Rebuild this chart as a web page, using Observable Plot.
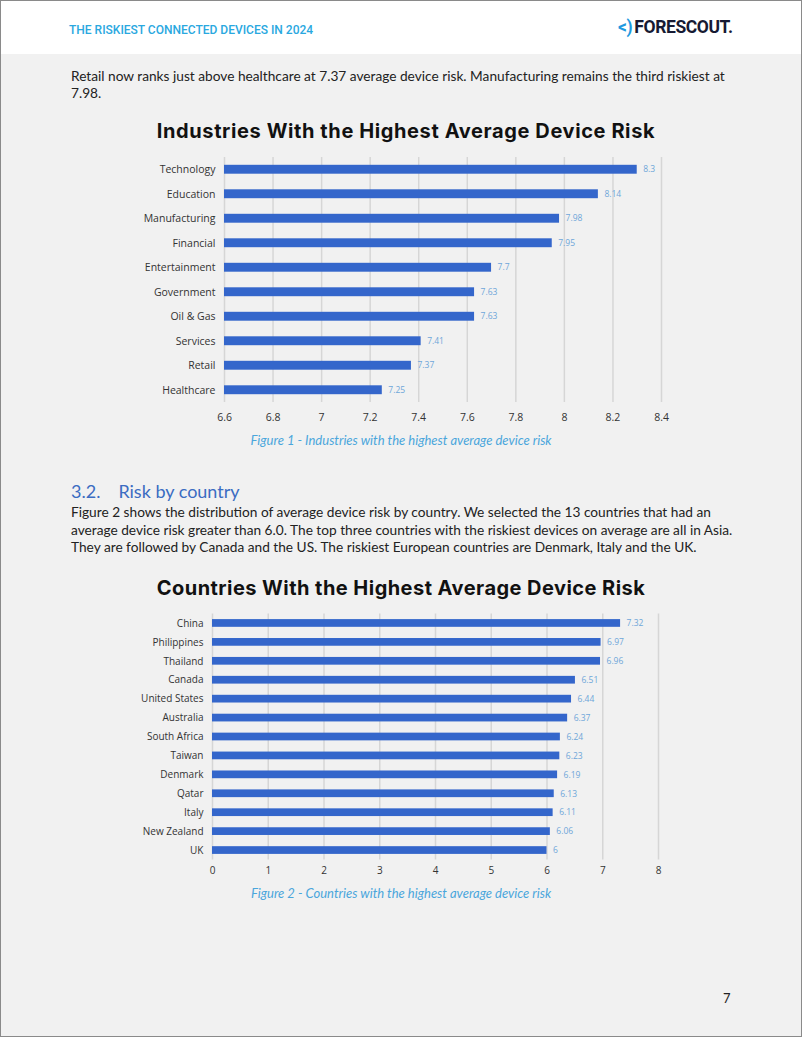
<!DOCTYPE html>
<html>
<head>
<meta charset="utf-8">
<script src="https://cdn.jsdelivr.net/npm/d3@7"></script>
<script src="https://cdn.jsdelivr.net/npm/@observablehq/plot@0.6"></script>
<style>
  html, body { margin: 0; padding: 0; }
  body { width: 802px; height: 1037px; position: relative; overflow: hidden; background: #f1f1f1; font-family: "Lato", "Open Sans", sans-serif; }
  #page { position: absolute; left: 0; top: 0; width: 800px; height: 1035px; border: 1px solid #8a8a8a; background: #f1f1f1; }
  #header { position: absolute; left: 0; top: 0; width: 800px; height: 53px; background: #ffffff; }
  .abs { position: absolute; white-space: nowrap; line-height: 1; }
  .hdr { left: 69px; top: 24px; font-family: "Roboto", sans-serif; font-weight: 500; font-size: 12px; color: #2aa8df; letter-spacing: 0; }
  .logo { left: 618px; top: 19px; font-family: "Roboto", sans-serif; font-weight: 700; font-size: 17.5px; letter-spacing: -0.4px; color: #161a33; }
  .logo span { color: #1f9ae0; margin-right: 2px; }
  .body { left: 71px; font-family: "Lato", sans-serif; font-size: 13.7px; color: #222; }
  .h2 { left: 71px; top: 482px; font-family: "Lato", sans-serif; font-size: 18px; color: #3b6cc2; }
  .title { left: 0; width: 802px; text-align: center; font-family: "Inter", sans-serif; font-weight: 700; font-size: 20px; letter-spacing: 0.6px; color: #111; }
  .cap { left: 0; width: 802px; text-align: center; font-family: "Lato", sans-serif; font-style: italic; font-size: 13px; color: #4aa6dc; }
  .chart { position: absolute; left: 0; }
</style>
</head>
<body>
<div id="page">
  <div id="header"></div>
</div>
<div class="abs hdr">THE RISKIEST CONNECTED DEVICES IN 2024</div>
<div class="abs logo"><span>&lt;)</span>FORESCOUT.</div>

<div class="abs body" style="top:69px">Retail now ranks just above healthcare at 7.37 average device risk. Manufacturing remains the third riskiest at</div>
<div class="abs body" style="top:86px">7.98.</div>

<div class="abs title" style="top:121px; left:5px">Industries With the Highest Average Device Risk</div>
<div id="chart1" class="chart" style="top:140px"></div>
<div class="abs cap" style="top:434px">Figure 1 - Industries with the highest average device risk</div>

<div class="abs h2"><span>3.2.</span><span style="margin-left:18px">Risk by country</span></div>
<div class="abs body" style="top:505px">Figure 2 shows the distribution of average device risk by country. We selected the 13 countries that had an</div>
<div class="abs body" style="top:523px">average device risk greater than 6.0. The top three countries with the riskiest devices on average are all in Asia.</div>
<div class="abs body" style="top:540px">They are followed by Canada and the US. The riskiest European countries are Denmark, Italy and the UK.</div>

<div class="abs title" style="top:578px; letter-spacing:0.45px">Countries With the Highest Average Device Risk</div>
<div id="chart2" class="chart" style="top:600px"></div>
<div class="abs cap" style="top:887px">Figure 2 - Countries with the highest average device risk</div>

<div class="abs body" style="left:723px; top:992px; font-size:13px;">7</div>

<script>
// ---- Data ----
const industries = ["Technology", "Education", "Manufacturing", "Financial", "Entertainment", "Government", "Oil & Gas", "Services", "Retail", "Healthcare"];
const industryRisk = [8.3, 8.14, 7.98, 7.95, 7.7, 7.63, 7.63, 7.41, 7.37, 7.25];
const industryTicks = [6.6, 6.8, 7, 7.2, 7.4, 7.6, 7.8, 8, 8.2, 8.4];

const countries = ["China", "Philippines", "Thailand", "Canada", "United States", "Australia", "South Africa", "Taiwan", "Denmark", "Qatar", "Italy", "New Zealand", "UK"];
const countryRisk = [7.32, 6.97, 6.96, 6.51, 6.44, 6.37, 6.24, 6.23, 6.19, 6.13, 6.11, 6.06, 6];
const countryTicks = [0, 1, 2, 3, 4, 5, 6, 7, 8];

const BAR = "#3466cb";
const VAL = "#6ea6d9";
const GRID = "#d6d6d6";
const AXIS_FONT = "'Open Sans', sans-serif";

function barChart({cats, vals, ticks, base, width, height, mL, mR, mT, mB, inset, labelFont, tickPad}) {
  const data = cats.map((c, i) => ({c, v: vals[i]}));
  return Plot.plot({
    width, height,
    marginLeft: mL, marginRight: mR, marginTop: mT, marginBottom: mB,
    style: {background: "transparent", fontFamily: AXIS_FONT, color: "#333"},
    x: {domain: [ticks[0], ticks[ticks.length - 1]]},
    y: {domain: cats, padding: 0, round: false},
    marks: [
      Plot.ruleX(ticks, {stroke: GRID, strokeWidth: 1.5}),
      Plot.barX(data, {x1: base, x2: "v", y: "c", fill: BAR, insetTop: inset, insetBottom: inset}),
      Plot.text(data, {x: "v", y: "c", text: d => String(d.v), dx: 6, textAnchor: "start", fill: VAL, fontSize: 8.5}),
      Plot.axisX({ticks, tickFormat: d => String(d), tickSize: 0, tickPadding: tickPad, fontSize: labelFont, label: null, fill: "#333"}),
      Plot.axisY({tickSize: 0, tickPadding: 9, fontSize: labelFont, label: null, fill: "#333"})
    ]
  });
}

document.getElementById("chart1").append(barChart({
  cats: industries, vals: industryRisk, ticks: industryTicks, base: 6.6,
  width: 802, height: 292, mL: 224, mR: 141, mT: 17, mB: 30, inset: 7.8, labelFont: 10.5, tickPad: 11
}));

document.getElementById("chart2").append(barChart({
  cats: countries, vals: countryRisk, ticks: countryTicks, base: 0,
  width: 802, height: 289.5, mL: 212, mR: 144, mT: 13.5, mB: 30, inset: 5.6, labelFont: 10, tickPad: 7
}));
</script>
</body>
</html>
